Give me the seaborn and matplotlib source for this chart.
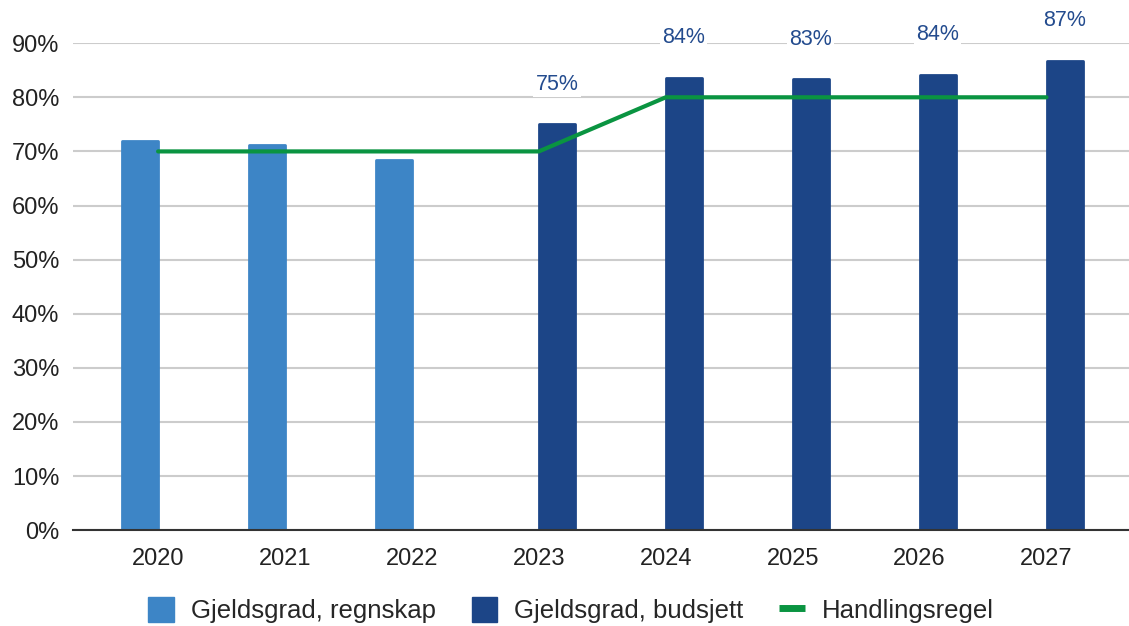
import numpy as np
import pandas as pd
import matplotlib
matplotlib.use("Agg")
import matplotlib.pyplot as plt
from matplotlib.patches import Patch
from matplotlib.lines import Line2D
import seaborn as sns

years = ["2020", "2021", "2022", "2023", "2024", "2025", "2026", "2027"]
regnskap = [71.9, 71.2, 68.4, np.nan, np.nan, np.nan, np.nan, np.nan]
budsjett = [np.nan, np.nan, np.nan, 75.0, 83.6, 83.3, 84.1, 86.8]
handlingsregel = [70, 70, 70, 70, 80, 80, 80, 80]
series = ["Gjeldsgrad, regnskap", "Gjeldsgrad, budsjett"]
colors = ["#3D85C6", "#1C4587"]
line_color = "#0A9441"

df = pd.DataFrame({
    "year": years * 2,
    "value": regnskap + budsjett,
    "series": [series[0]] * len(years) + [series[1]] * len(years),
})

sns.set_style("white")
plt.rcParams["font.family"] = ["Liberation Sans", "DejaVu Sans"]

fig, ax = plt.subplots(figsize=(11.29, 6.26), dpi=100)
fig.subplots_adjust(left=0.0647, right=1.0, top=0.931, bottom=0.153)

sns.barplot(data=df, x="year", y="value", hue="series", hue_order=series,
            palette=colors, width=0.57, saturation=1, ax=ax, legend=False)
# slightly rounded bar corners
for cont, c in zip(ax.containers, colors):
    for rect in cont:
        rect.set_edgecolor(c)
        rect.set_linewidth(2)
        rect.set_joinstyle("round")

sns.lineplot(x=np.arange(len(years)), y=handlingsregel, color=line_color,
             linewidth=3, ax=ax, zorder=4)

# value labels on budget bars (NaN bars are dropped by seaborn)
bud_vals = [v for v in budsjett if not np.isnan(v)]
for rect, v in zip(ax.containers[1], bud_vals):
    ax.annotate(f"{v:.0f}%", (rect.get_x() + rect.get_width() / 2, v),
                xytext=(0, 29), textcoords="offset points",
                ha="center", va="center", fontsize=15.5, color="#234B8E",
                bbox=dict(boxstyle="square,pad=0.1", fc="white", ec="none"),
                zorder=6, annotation_clip=False)

ax.set_ylim(0, 90)
ax.set_xlim(-0.67, 7.65)
ax.set_yticks(range(0, 91, 10))
ax.set_yticklabels([f"{t}%" for t in range(0, 91, 10)])
ax.yaxis.grid(True, color="#CCCCCC", linewidth=1.5)
ax.set_axisbelow(True)
for s in ["left", "right", "top"]:
    ax.spines[s].set_visible(False)
ax.spines["bottom"].set_color("#333333")
ax.spines["bottom"].set_linewidth(1.5)
ax.spines["bottom"].set_zorder(5)
ax.tick_params(axis="both", length=0, labelsize=17, colors="#222222")
ax.tick_params(axis="y", pad=10)
ax.tick_params(axis="x", pad=13)
ax.set_xlabel("")
ax.set_ylabel("")

handles = [Patch(color=colors[0]), Patch(color=colors[1]),
           Line2D([], [], color=line_color, linewidth=5, solid_capstyle="butt")]
ax.legend(handles, series + ["Handlingsregel"], loc="center",
          bbox_to_anchor=(571 / 1129, 1 - 610 / 626), bbox_transform=fig.transFigure,
          ncol=3, frameon=False, fontsize=18.5,
          handlelength=1.0, handleheight=1.1, columnspacing=1.4,
          handletextpad=0.66)

plt.savefig("out.png", dpi=100)
